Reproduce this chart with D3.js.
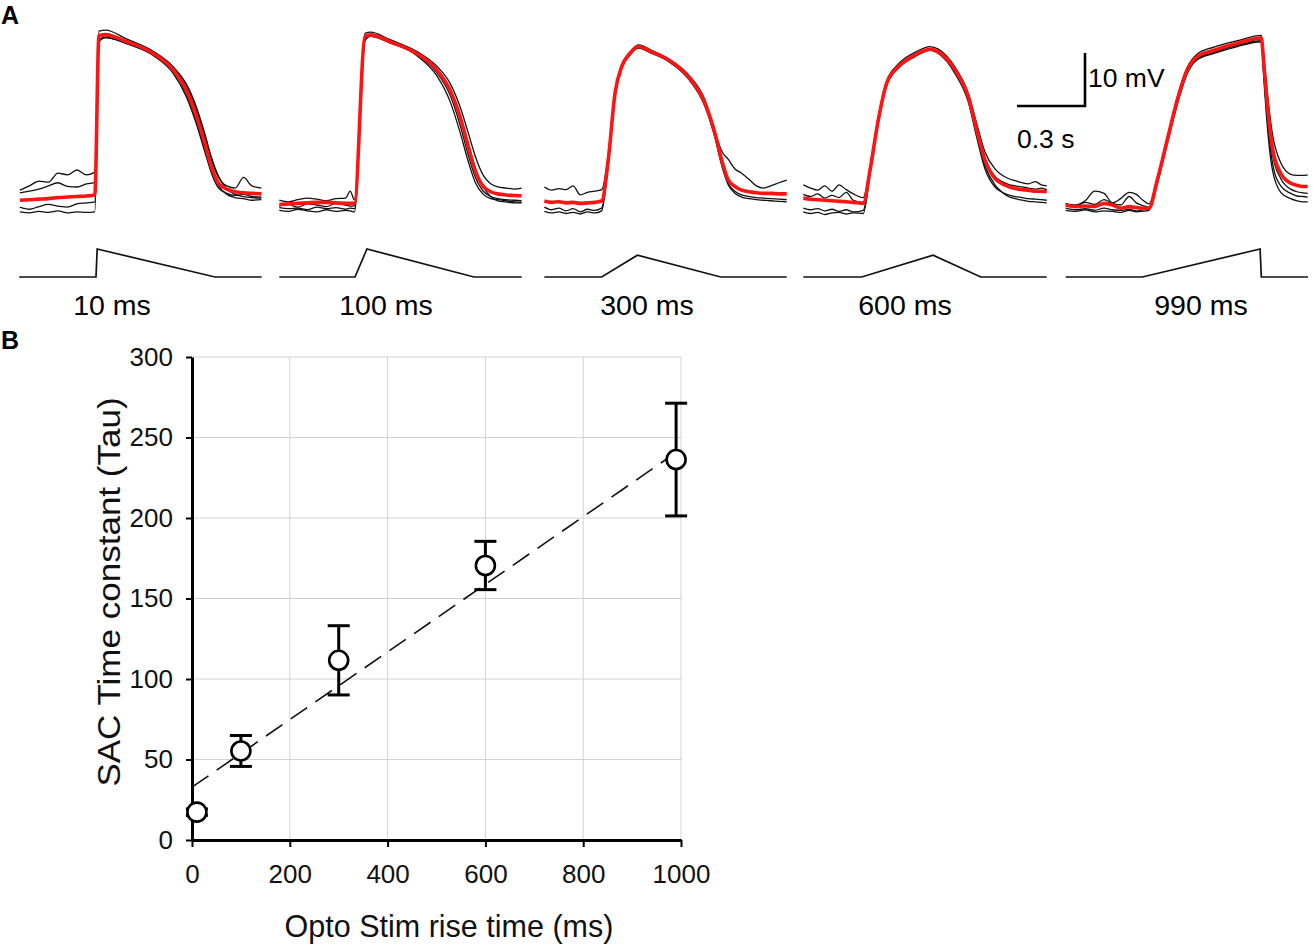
<!DOCTYPE html>
<html lang="en">
<head>
<meta charset="UTF-8" />
<script src="https://d3js.org/d3.v7.min.js"></script>
<style>
  body { margin: 0; background: #fff; }
  svg text { font-family: "Liberation Sans", Arial, sans-serif; }
</style>
</head>
<body>
<svg width="1314" height="947"></svg>
<script>
//////////////////////
// DATA - panel A (time in ms from stim onset, voltage in mV)
//////////////////////
var riseLabels = ["10 ms", "100 ms", "300 ms", "600 ms", "990 ms"];
var riseTimes = [10, 100, 300, 600, 990];
var stimPeak = [1, 1, 0.78, 0.78, 1];
var windowStart = [-645, -636, -482, -491, -644];
var windowEnd = [1392, 1401, 1555, 1555, 1392];

var tA1 = [-640,-560,-480,-400,-320,-240,-160,-80,-10,25,80,260,480,650,760,845,915,970,1030,1100,1170,1240,1310,1390];
var red1 = [0.9,1.0,1.1,1.2,1.4,1.5,1.6,1.7,1.9,32.0,32.1,30.8,28.6,25.5,21.7,16.7,11.6,7.2,4.1,3.0,2.5,2.3,2.2,2.1];
var black1 = [
  [2.8,3.6,4.5,4.3,6.0,5.7,6.6,5.7,6.2,32.8,33.0,31.3,29.0,26.0,22.4,17.8,12.8,8.6,5.2,3.6,3.2,5.2,3.6,3.2],
  [2.3,2.6,3.0,3.6,4.2,3.5,3.4,4.0,4.2,31.6,32.4,30.5,28.2,24.8,20.4,15.2,10.0,6.0,3.2,2.2,1.8,2.0,1.6,1.5],
  [-0.4,-0.8,-0.3,0.1,-0.2,-0.4,0.2,0.4,0.6,31.2,31.6,30.4,28.4,25.2,21.0,15.8,10.6,6.4,3.6,2.0,1.4,1.2,0.9,1.0],
  [-1.3,-1.5,-1.2,-1.4,-1.1,-1.5,-1.3,-1.4,-1.3,30.8,31.6,30.6,28.8,26.0,22.8,18.4,13.4,9.0,5.4,3.0,2.0,1.6,1.4,1.3]
];

var tA2 = [-636,-560,-480,-400,-320,-240,-160,-80,-40,-5,84,130,294,518,687,798,882,952,1008,1078,1140,1200,1270,1340,1400];
var red2 = [0.1,0.2,0.3,0.4,0.5,0.5,0.4,0.3,0.3,0.3,31.8,32.1,30.8,28.6,25.5,21.7,16.7,11.0,6.6,3.5,2.5,2.1,1.9,1.8,1.75];
var black2 = [
  [0.9,0.6,1.0,1.3,1.1,0.8,1.2,1.3,2.6,1.0,32.4,32.6,31.2,29.0,26.2,23.0,18.6,13.6,9.4,5.6,4.0,3.4,3.2,3.0,3.2],
  [-0.2,0.1,-0.4,0.2,0.0,-0.3,0.3,0.0,-0.2,-0.1,31.4,32.0,30.6,28.4,25.0,20.8,15.2,9.4,5.4,2.6,1.6,1.2,1.0,0.9,0.8],
  [-1.0,-1.2,-0.8,-1.1,-1.3,-0.9,-1.2,-1.0,-1.1,-1.3,31.0,31.8,30.6,28.6,25.6,21.8,17.0,11.6,7.2,3.4,1.6,0.8,0.6,0.4,0.4],
  [-0.5,-0.7,-0.6,-0.9,-0.4,-0.7,-0.5,-0.8,-0.6,-0.7,31.2,32.2,30.8,28.2,24.4,19.6,13.8,8.2,4.4,2.0,1.2,1.0,0.8,0.6,0.5]
];

var tA3 = [-482,-420,-360,-300,-240,-180,-120,-60,0,55,112,168,238,308,420,560,728,868,952,1008,1064,1120,1176,1240,1300,1360,1420,1490,1555];
var red3 = [0.75,0.5,0.6,0.4,0.5,0.3,0.4,0.5,0.75,8.5,21.1,26.1,28.6,29.9,28.9,27.4,24.2,19.2,13.5,8.5,4.7,3.5,2.8,2.5,2.3,2.2,2.2,2.1,2.1];
var black3 = [
  [3.4,2.8,3.1,2.9,3.6,1.9,2.4,2.6,2.9,9.5,21.6,26.4,28.9,30.2,29.2,27.6,24.6,19.8,13.8,10.2,8.6,6.8,6.0,4.8,3.6,3.2,3.6,4.2,4.7],
  [-0.4,-0.9,-0.6,-1.1,-0.7,-1.3,-0.8,-1.0,-0.6,7.8,20.6,25.8,28.3,29.6,28.6,27.2,24.0,18.9,13.0,7.8,4.0,2.6,1.9,1.6,1.4,1.3,1.2,1.1,1.0],
  [-1.2,-1.5,-1.3,-1.6,-1.4,-1.7,-1.3,-1.5,-1.1,8.0,20.8,25.9,28.4,29.7,28.7,27.1,23.8,18.6,12.7,7.5,3.8,2.2,1.5,1.2,1.0,0.9,0.8,0.7,0.6]
];

var tA4 = [-491,-430,-370,-310,-250,-190,-130,-70,13,70,139,210,308,448,574,644,784,896,966,1036,1120,1180,1232,1290,1350,1400,1460,1510,1555];
var red4 = [1.3,1.1,1.0,0.9,0.8,0.7,0.6,0.5,0.3,6.6,16.0,23.0,26.1,28.3,29.4,28.9,25.5,20.4,14.2,8.5,5.0,4.0,3.5,3.1,2.9,2.8,2.6,2.6,2.5];
var black4 = [
  [3.8,3.2,2.8,3.6,2.6,3.8,2.9,2.1,1.4,7.0,16.4,23.4,26.6,28.8,29.9,29.4,26.0,21.0,15.4,10.0,6.8,5.6,5.0,4.6,4.2,4.0,4.4,3.8,3.6],
  [2.0,1.6,2.1,1.3,1.8,1.4,2.4,0.9,0.5,6.4,15.8,22.8,26.0,28.2,29.3,28.8,25.3,20.2,14.0,8.6,5.4,4.4,3.9,3.6,3.4,3.2,3.0,3.2,2.9],
  [-0.6,-0.9,-0.7,-1.1,-0.8,-1.2,-0.9,-1.3,-1.0,6.0,15.6,22.6,25.8,28.0,29.2,28.6,24.8,19.4,12.8,6.8,3.4,2.4,1.9,1.6,1.4,1.2,1.1,1.0,0.9],
  [-1.3,-1.6,-1.4,-1.8,-1.5,-1.4,-1.7,-1.5,-1.6,5.8,15.4,22.6,26.0,28.3,29.4,28.8,25.2,20.0,13.4,7.4,3.8,2.4,1.6,1.2,0.9,0.7,0.6,0.5,0.4]
];

var tA5 = [-644,-560,-480,-400,-322,-250,-182,-110,-50,0,56,126,210,294,378,462,603,798,1000,1020,1050,1092,1163,1247,1300,1350,1390];
var red5 = [0,-0.3,-0.2,-0.3,0.3,0.0,-0.6,-0.3,-0.5,-0.6,-0.6,4.7,12.3,19.8,25.5,28.0,29.2,30.5,31.5,27.0,19.2,11.0,6.0,4.1,3.7,3.5,3.5];
var black5 = [
  [0.2,0.0,0.8,2.6,2.2,0.4,1.2,2.4,2.0,1.0,0.2,5.2,12.8,20.4,26.0,28.5,29.8,31.0,32.0,28.0,21.2,13.6,8.0,5.8,5.6,5.6,5.7],
  [0.3,-0.2,0.5,0.1,1.0,0.3,0.0,1.6,0.4,-0.1,-0.4,4.4,12.0,19.4,25.2,27.8,29.0,30.3,31.3,26.0,17.8,9.8,5.0,3.0,2.5,2.3,2.2],
  [-0.6,-0.9,-0.7,-1.0,-0.6,-0.9,-1.0,-0.8,-1.1,-0.9,-0.8,4.2,11.8,19.2,25.0,27.6,28.8,30.1,31.0,25.0,16.4,8.2,3.6,2.2,1.7,1.6,1.5],
  [-1.0,-1.2,-0.9,-1.3,-1.1,-1.2,-1.4,-1.0,-1.3,-1.2,-1.0,4.0,11.6,19.0,24.8,27.4,28.6,29.9,30.8,24.2,15.0,6.8,2.4,1.2,0.8,0.6,0.6]
];

//////////////////////
// DATA - panel B
//////////////////////
var riseTimeB = [10, 100, 300, 600, 990];
var tauMean = [17.3, 55.3, 111.6, 170.5, 236.3];
var tauErr = [2, 9.6, 21.5, 15, 35];
var fitX = [0, 990];
var fitY = [32.8, 240.7];
var xTicksB = [0, 200, 400, 600, 800, 1000];
var yTicksB = [0, 50, 100, 150, 200, 250, 300];

var times = [tA1, tA2, tA3, tA4, tA5];
var reds = [red1, red2, red3, red4, red5];
var blacks = [black1, black2, black3, black4, black5];

var svg = d3.select("svg");

// panel letters
svg.append("text").attr("x", 1).attr("y", 24).style("font-size", "25px")
  .style("font-weight", "bold").text("A");
svg.append("text").attr("x", 1).attr("y", 349).style("font-size", "25px")
  .style("font-weight", "bold").text("B");

///////////////////////////////////////
/////////PANEL A traces
///////////////////////////////////////
var onsetX = [96, 355, 601.7, 861.7, 1142.3];   // px where the stim starts
var pxPer1000 = 119;
var labelX = [112, 386, 647, 905, 1201];

var yV = d3.scaleLinear().domain([0, 10]).range([205, 152]);   // 10 mV = 53 px
var yStim = d3.scaleLinear().domain([0, 1]).range([277, 249]);

for (var p = 0; p < 5; p++) {
  var xT = d3.scaleLinear().domain([0, 1000]).range([onsetX[p], onsetX[p] + pxPer1000]);
  var tt = times[p];
  var line = d3.line()
    .x(function(d, i) { return xT(tt[i]); })
    .y(function(d) { return yV(d); })
    .curve(d3.curveMonotoneX);

  var g = svg.append("g");
  blacks[p].forEach(function(b) {
    g.append("path").attr("d", line(b))
      .attr("fill", "none").attr("stroke", "#111").attr("stroke-width", 1.3);
  });
  g.append("path").attr("d", line(reds[p]))
    .attr("fill", "none").attr("stroke", "#ff1414").attr("stroke-width", 3.6)
    .attr("stroke-linejoin", "round");

  // stimulus ramp
  var r = riseTimes[p];
  var stim = [[windowStart[p], 0], [0, 0], [r, stimPeak[p]], [1000, 0], [windowEnd[p], 0]];
  var sLine = d3.line().x(function(d) { return xT(d[0]); }).y(function(d) { return yStim(d[1]); });
  g.append("path").attr("d", sLine(stim))
    .attr("fill", "none").attr("stroke", "#111").attr("stroke-width", 1.7);

  g.append("text").attr("x", labelX[p]).attr("y", 315)
    .attr("text-anchor", "middle").style("font-size", "28.5px").text(riseLabels[p]);
}

// scale bar
var sbX = 1085, sbY = yV(0) - 99;  // corner
svg.append("path")
  .attr("d", "M" + (sbX - 68) + "," + sbY + "H" + sbX + "V" + (sbY - (yV(0) - yV(10))))
  .attr("fill", "none").attr("stroke", "#000").attr("stroke-width", 2.6);
svg.append("text").attr("x", 1088).attr("y", 87).style("font-size", "26.5px").text("10 mV");
svg.append("text").attr("x", 1017).attr("y", 148).style("font-size", "26.5px").text("0.3 s");

///////////////////////////////////////
/////////PANEL B scatter
///////////////////////////////////////
var x = d3.scaleLinear().domain([0, 1000]).range([192, 681]);
var y = d3.scaleLinear().domain([0, 300]).range([840, 357]);

// grid
svg.append("g").selectAll("line").data(xTicksB.slice(1)).enter().append("line")
  .attr("x1", function(d) { return x(d); }).attr("x2", function(d) { return x(d); })
  .attr("y1", y(0)).attr("y2", y(300))
  .attr("stroke", "#d3d3d3").attr("stroke-width", 1);
svg.append("g").selectAll("line").data(yTicksB.slice(1)).enter().append("line")
  .attr("y1", function(d) { return y(d); }).attr("y2", function(d) { return y(d); })
  .attr("x1", x(0)).attr("x2", x(1000))
  .attr("stroke", "#d3d3d3").attr("stroke-width", 1);

// axes
var yAxis = svg.append("g").attr("transform", "translate(" + x(0) + ",0)")
  .call(d3.axisLeft(y).tickValues(yTicksB).tickSize(6).tickSizeOuter(0).tickPadding(13));
var xAxis = svg.append("g").attr("transform", "translate(0," + y(0) + ")")
  .call(d3.axisBottom(x).tickValues(xTicksB).tickFormat(d3.format("d"))
    .tickSize(7).tickSizeOuter(0).tickPadding(18));
[xAxis, yAxis].forEach(function(a) {
  a.select(".domain").attr("stroke", "#000").attr("stroke-width", 3);
  a.selectAll(".tick line").attr("stroke", "#000").attr("stroke-width", 2);
  a.selectAll(".tick text").style("font-size", "26px").attr("fill", "#111")
    .style("font-family", "'Liberation Sans', Arial, sans-serif");
});

// regression line
svg.append("line")
  .attr("x1", x(fitX[0])).attr("y1", y(fitY[0]))
  .attr("x2", x(fitX[1])).attr("y2", y(fitY[1]))
  .attr("stroke", "#111").attr("stroke-width", 1.6).attr("stroke-dasharray", "20,10");

// error bars
var eb = svg.append("g").attr("stroke", "#000").attr("stroke-width", 3).attr("fill", "none");
riseTimeB.forEach(function(t, i) {
  var cx = x(t), lo = y(tauMean[i] - tauErr[i]), hi = y(tauMean[i] + tauErr[i]);
  eb.append("line").attr("x1", cx).attr("x2", cx).attr("y1", lo).attr("y2", hi);
  eb.append("line").attr("x1", cx - 11).attr("x2", cx + 11).attr("y1", lo).attr("y2", lo);
  eb.append("line").attr("x1", cx - 11).attr("x2", cx + 11).attr("y1", hi).attr("y2", hi);
});

// points
svg.append("g").selectAll("circle").data(riseTimeB).enter().append("circle")
  .attr("cx", function(d) { return x(d); })
  .attr("cy", function(d, i) { return y(tauMean[i]); })
  .attr("r", 9.5)
  .attr("fill", "#fff").attr("stroke", "#000").attr("stroke-width", 2.6);

// axis titles
svg.append("text").attr("x", 449).attr("y", 937).attr("text-anchor", "middle")
  .style("font-size", "30.5px").attr("fill", "#111").text("Opto Stim rise time (ms)");
svg.append("text").attr("transform", "translate(120,592) scale(1,1.13) rotate(-90)")
  .attr("text-anchor", "middle").style("font-size", "31px").attr("fill", "#111")
  .text("SAC Time constant (Tau)");
</script>
</body>
</html>
